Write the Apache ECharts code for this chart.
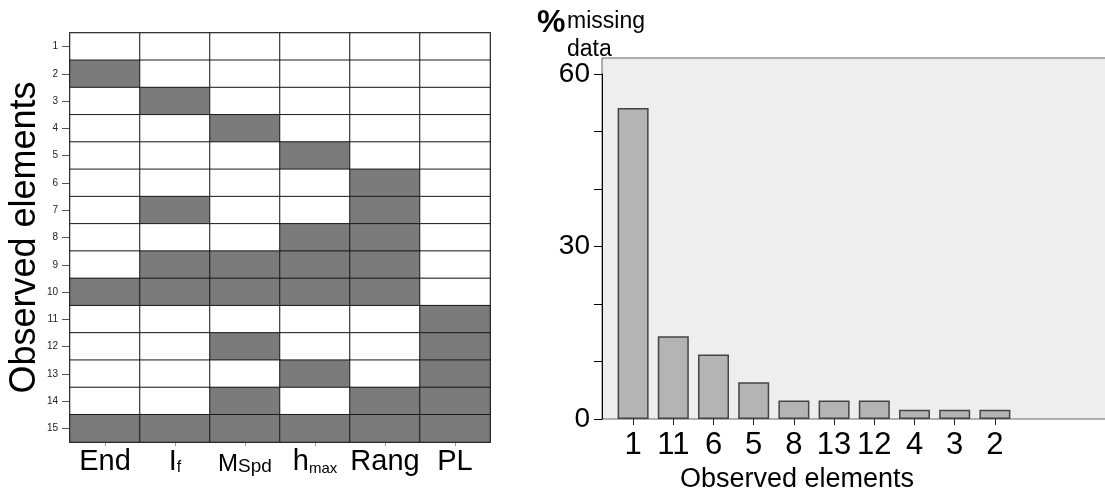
<!DOCTYPE html>
<html>
<head>
<meta charset="utf-8">
<script src="https://cdn.jsdelivr.net/npm/echarts@6/dist/echarts.min.js"></script>
<style>
  html, body { margin: 0; padding: 0; background: #fff; }
  #chart { width: 1105px; height: 491px; }
</style>
</head>
<body>
<div id="chart"></div>
<script>
// ---- Left panel: missing-data pattern ----
const patternColumns = ['End', 'If', 'MSpd', 'hmax', 'Rang', 'PL'];
const patternRows = ['1','2','3','4','5','6','7','8','9','10','11','12','13','14','15'];
// 1 = missing (shaded), 0 = observed
const row1  = [0,0,0,0,0,0];
const row2  = [1,0,0,0,0,0];
const row3  = [0,1,0,0,0,0];
const row4  = [0,0,1,0,0,0];
const row5  = [0,0,0,1,0,0];
const row6  = [0,0,0,0,1,0];
const row7  = [0,1,0,0,1,0];
const row8  = [0,0,0,1,1,0];
const row9  = [0,1,1,1,1,0];
const row10 = [1,1,1,1,1,0];
const row11 = [0,0,0,0,0,1];
const row12 = [0,0,1,0,0,1];
const row13 = [0,0,0,1,0,1];
const row14 = [0,0,1,0,1,1];
const row15 = [1,1,1,1,1,1];
const patternMatrix = [row1,row2,row3,row4,row5,row6,row7,row8,row9,row10,row11,row12,row13,row14,row15];

// ---- Right panel: % missing data ----
const barCategories = ['1','11','6','5','8','13','12','4','3','2'];
const missingPercent = [54.1, 14.4, 11.2, 6.4, 3.2, 3.2, 3.2, 1.6, 1.6, 1.6];
const yLabelValues = [0, 30, 60];

const columnLabelRich = {
  'End': '{b|End}',
  'If': '{b|I}{f|f}',
  'MSpd': '{m|M}{s|Spd}',
  'hmax': '{b|h}{x|max}',
  'Rang': '{b|Rang}',
  'PL': '{b|PL}'
};

const heatData = [];
patternMatrix.forEach((row, r) => {
  row.forEach((v, c) => heatData.push([c, r, v]));
});

const FONT = 'Liberation Sans, Arial, sans-serif';
const chart = echarts.init(document.getElementById('chart'), null, { renderer: 'canvas' });

chart.setOption({
  animation: false,
  backgroundColor: '#ffffff',
  textStyle: { fontFamily: FONT, color: '#000' },
  title: [
    {
      left: 537, top: 8, padding: 0, text: '%',
      textStyle: { fontSize: 32, fontWeight: 'bold', fontFamily: FONT, color: '#000', lineHeight: 30 }
    },
    {
      left: 567, top: 8, padding: 0, text: 'missing\ndata',
      textStyle: { fontSize: 23, fontWeight: 'normal', fontFamily: FONT, color: '#000', lineHeight: 28 }
    }
  ],
  visualMap: {
    show: false, type: 'piecewise', seriesIndex: 0, dimension: 2,
    pieces: [{ value: 0, color: '#ffffff' }, { value: 1, color: '#7b7b7b' }]
  },
  grid: [
    { left: 70, top: 33, width: 420, bottom: 49, show: true, borderColor: '#555', borderWidth: 2, backgroundColor: 'transparent', outerBoundsMode: 'none', containLabel: false },
    { left: 602, top: 58, right: -20, bottom: 72, show: true, borderColor: '#666', borderWidth: 1, backgroundColor: '#eeeeee', outerBoundsMode: 'none', containLabel: false },
    { left: 613, top: 74, width: 402, bottom: 72, outerBoundsMode: 'none', containLabel: false }
  ],
  xAxis: [
    {
      type: 'category', gridIndex: 0, data: patternColumns,
      axisLine: { show: false },
      axisTick: { show: true, alignWithLabel: true, length: 4, lineStyle: { color: '#999' } },
      splitLine: { show: false },
      axisLabel: {
        margin: 4, interval: 0,
        formatter: v => columnLabelRich[v],
        rich: {
          b: { fontSize: 29, fontFamily: FONT, color: '#000', lineHeight: 30, verticalAlign: 'bottom' },
          m: { fontSize: 24, fontFamily: FONT, color: '#000', lineHeight: 30, verticalAlign: 'bottom' },
          s: { fontSize: 19, fontFamily: FONT, color: '#000', lineHeight: 30, verticalAlign: 'bottom' },
          f: { fontSize: 16, fontFamily: FONT, color: '#000', lineHeight: 30, verticalAlign: 'bottom' },
          x: { fontSize: 15, fontFamily: FONT, color: '#000', lineHeight: 30, verticalAlign: 'bottom' }
        }
      }
    },
    { type: 'value', gridIndex: 1, show: false, min: 0, max: 1 },
    {
      type: 'category', gridIndex: 2, data: barCategories,
      axisLine: { show: false },
      axisTick: { show: true, alignWithLabel: true, length: 6, interval: 0, lineStyle: { color: '#222' } },
      axisLabel: { fontSize: 31, color: '#000', margin: 11, interval: 0, fontFamily: FONT },
      name: 'Observed elements', nameLocation: 'middle', nameGap: 41,
      nameTextStyle: { fontSize: 27, color: '#000', fontFamily: FONT, padding: [0, 34, 0, 0] }
    }
  ],
  yAxis: [
    {
      type: 'category', gridIndex: 0, data: patternRows, inverse: true,
      axisLine: { show: false },
      axisTick: { show: true, alignWithLabel: true, length: 8, interval: 0, lineStyle: { color: '#555' } },
      axisLabel: { fontSize: 10, color: '#222', margin: 12, interval: 0, fontFamily: FONT },
      name: 'Observed elements', nameLocation: 'middle', nameGap: 26,
      nameTextStyle: { fontSize: 36, color: '#000', fontFamily: FONT }
    },
    { type: 'value', gridIndex: 1, show: false, min: 0, max: 1 },
    {
      type: 'value', gridIndex: 2, min: 0, max: 60, interval: 10, offset: 11,
      axisLine: { show: true, lineStyle: { color: '#000', width: 1 } },
      axisTick: { show: true, length: 8, lineStyle: { color: '#000' } },
      splitLine: { show: false },
      axisLabel: {
        fontSize: 28, color: '#000', margin: 12, fontFamily: FONT,
        formatter: v => (yLabelValues.indexOf(v) >= 0 ? String(v) : '')
      }
    }
  ],
  series: [
    {
      type: 'heatmap', xAxisIndex: 0, yAxisIndex: 0, data: heatData,
      itemStyle: { borderColor: '#1a1a1a', borderWidth: 1 },
      emphasis: { disabled: true }
    },
    {
      type: 'bar', xAxisIndex: 2, yAxisIndex: 2, data: missingPercent,
      barWidth: 31,
      itemStyle: { color: '#b4b4b4', borderColor: '#444', borderWidth: 1.5 }
    }
  ]
});
</script>
</body>
</html>
